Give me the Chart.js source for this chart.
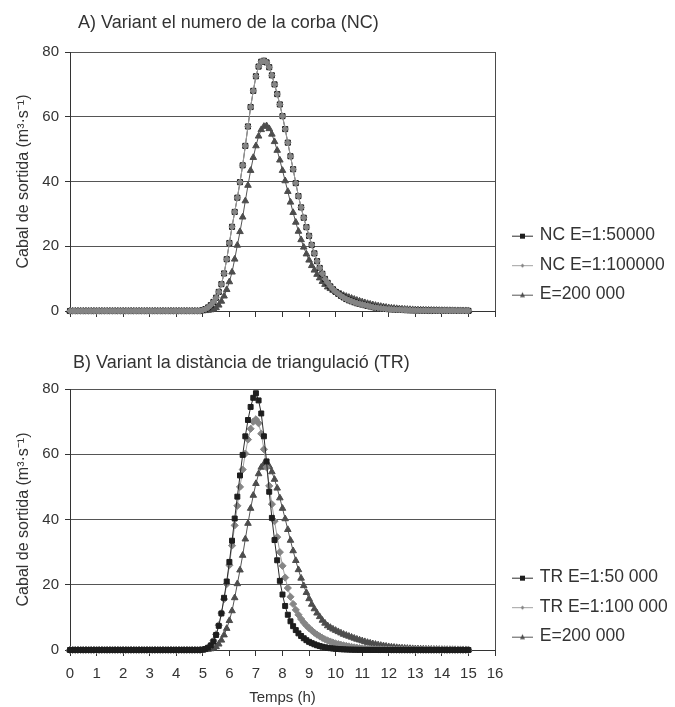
<!DOCTYPE html>
<html>
<head>
<meta charset="utf-8">
<script src="https://cdn.jsdelivr.net/npm/chart.js@4.4.1/dist/chart.umd.min.js"></script>
<style>
  body { margin: 0; background: #fff; overflow: hidden; }
  #wrap { position: relative; width: 675px; height: 707px; }
  canvas { position: absolute; left: 0; }
  .title { position: absolute; font: 18px 'Liberation Sans', Arial, sans-serif; line-height: 20px; color: #333; white-space: nowrap; }
</style>
</head>
<body>
<div id="wrap">
  <canvas id="chartA" width="675" height="340" style="top:0"></canvas>
  <canvas id="chartB" width="675" height="367" style="top:340px"></canvas>
  <div class="title" style="left:78px; top:12px">A) Variant el numero de la corba (NC)</div>
  <div class="title" style="left:73px; top:352px">B) Variant la distància de triangulació (TR)</div>
</div>
<script>
// Hydrographs, one value every 0.1 h from 0 to 15 h (m3/s)
const nc = [
  0, 0, 0, 0, 0, 0, 0, 0, 0, 0,
  0, 0, 0, 0, 0, 0, 0, 0, 0, 0,
  0, 0, 0, 0, 0, 0, 0, 0, 0, 0,
  0, 0, 0, 0, 0, 0, 0, 0, 0, 0,
  0, 0, 0, 0, 0, 0, 0, 0, 0, 0,
  0.3, 0.6, 1.1, 1.8, 2.8, 4.1, 5.9, 8.3, 11.6, 16.0,
  21.0, 26.0, 30.6, 35.0, 39.8, 45.0, 51.0, 57.0, 63.0, 68.0,
  72.5, 75.5, 77.0, 77.3, 76.8, 75.3, 72.8, 70.0, 67.0, 63.8,
  60.2, 56.2, 52.0, 47.8, 43.8, 39.5, 35.5, 32.0, 28.8, 25.9,
  23.2, 20.4, 17.8, 15.4, 13.3, 11.5, 9.9, 8.7, 7.6, 6.7,
  5.9, 5.3, 4.7, 4.2, 3.7, 3.3, 3.0, 2.7, 2.4, 2.2,
  2.0, 1.8, 1.6, 1.4, 1.2, 1.05, 0.95, 0.85, 0.75, 0.65,
  0.58, 0.52, 0.47, 0.42, 0.38, 0.34, 0.3, 0.27, 0.24, 0.22,
  0.2, 0.18, 0.16, 0.15, 0.14, 0.13, 0.12, 0.11, 0.1, 0.09,
  0.08, 0.08, 0.07, 0.07, 0.06, 0.06, 0.05, 0.05, 0.05, 0.04,
  0.04
];

const e200000 = [
  0, 0, 0, 0, 0, 0, 0, 0, 0, 0,
  0, 0, 0, 0, 0, 0, 0, 0, 0, 0,
  0, 0, 0, 0, 0, 0, 0, 0, 0, 0,
  0, 0, 0, 0, 0, 0, 0, 0, 0, 0,
  0, 0, 0, 0, 0, 0, 0, 0, 0, 0,
  0.05, 0.1, 0.2, 0.35, 0.6, 1.0, 1.8, 3.0, 4.6, 6.6,
  9.0, 12.0, 16.0, 20.3, 24.5, 29.0, 34.0, 38.8, 43.4, 47.4,
  51.0, 54.0, 56.0, 57.0, 57.2, 56.3, 54.6, 52.3, 49.6, 46.6,
  43.4, 40.2, 36.9, 33.6, 30.4, 27.4, 24.6, 22.0, 19.7, 17.6,
  15.7, 14.0, 12.6, 11.3, 10.2, 9.1, 8.2, 7.4, 6.9, 6.4,
  6.0, 5.6, 5.2, 4.8, 4.5, 4.2, 3.9, 3.6, 3.3, 3.05,
  2.8, 2.55, 2.3, 2.1, 1.9, 1.72, 1.55, 1.4, 1.26, 1.13,
  1.0, 0.9, 0.81, 0.73, 0.66, 0.6, 0.54, 0.49, 0.44, 0.4,
  0.36, 0.33, 0.3, 0.27, 0.25, 0.23, 0.21, 0.19, 0.18, 0.16,
  0.15, 0.14, 0.13, 0.12, 0.11, 0.1, 0.09, 0.09, 0.08, 0.08,
  0.07
];

const tr50000 = [
  0, 0, 0, 0, 0, 0, 0, 0, 0, 0,
  0, 0, 0, 0, 0, 0, 0, 0, 0, 0,
  0, 0, 0, 0, 0, 0, 0, 0, 0, 0,
  0, 0, 0, 0, 0, 0, 0, 0, 0, 0,
  0, 0, 0, 0, 0, 0, 0, 0, 0, 0,
  0.1, 0.3, 0.7, 1.4, 2.6, 4.6, 7.4, 11.2, 16.0, 21.0,
  27.0, 33.5, 40.3, 47.0, 53.5, 59.8, 65.5, 70.5, 74.5, 77.3,
  78.7, 76.5, 72.5, 65.5, 57.8, 48.5, 40.5, 33.7, 27.5, 21.2,
  17.0, 13.5, 10.8, 8.8, 7.3, 6.1, 5.1, 4.3, 3.6, 3.0,
  2.5, 2.1, 1.75, 1.45, 1.2, 1.0, 0.82, 0.67, 0.55, 0.45,
  0.37, 0.3, 0.24, 0.2, 0.16, 0.13, 0.1, 0.08, 0.07, 0.05,
  0.04, 0.03, 0.03, 0.02, 0.02, 0.02, 0.01, 0.01, 0.01, 0.01,
  0, 0, 0, 0, 0, 0, 0, 0, 0, 0,
  0, 0, 0, 0, 0, 0, 0, 0, 0, 0,
  0, 0, 0, 0, 0, 0, 0, 0, 0, 0,
  0
];

const tr100000 = [
  0, 0, 0, 0, 0, 0, 0, 0, 0, 0,
  0, 0, 0, 0, 0, 0, 0, 0, 0, 0,
  0, 0, 0, 0, 0, 0, 0, 0, 0, 0,
  0, 0, 0, 0, 0, 0, 0, 0, 0, 0,
  0, 0, 0, 0, 0, 0, 0, 0, 0, 0,
  0.1, 0.3, 0.7, 1.5, 2.8, 4.8, 7.6, 11.3, 15.6, 20.2,
  26.0, 32.0, 38.2, 44.2, 50.0, 55.3, 60.2, 64.5, 67.8, 70.0,
  70.7, 69.5, 66.3, 61.5, 56.0, 50.3, 44.7, 39.5, 34.6, 30.0,
  25.8, 22.2, 19.0, 16.3, 14.1, 12.3, 10.8, 9.5, 8.4, 7.5,
  6.7, 6.0, 5.3, 4.7, 4.2, 3.7, 3.3, 2.9, 2.6, 2.3,
  2.0, 1.8, 1.6, 1.4, 1.25, 1.1, 0.95, 0.82, 0.7, 0.6,
  0.52, 0.45, 0.39, 0.34, 0.29, 0.25, 0.21, 0.18, 0.15, 0.13,
  0.11, 0.09, 0.08, 0.07, 0.06, 0.05, 0.04, 0.04, 0.03, 0.03,
  0.02, 0.02, 0.02, 0.02, 0.01, 0.01, 0.01, 0.01, 0.01, 0.01,
  0, 0, 0, 0, 0, 0, 0, 0, 0, 0,
  0
];

// time axis: one sample every 0.1 h
const stepHours = 0.1;
const hours = nc.map((v, i) => +(i * stepHours).toFixed(1));

const FONT = "'Liberation Sans', Arial, Helvetica, sans-serif";
Chart.defaults.font.family = FONT;
Chart.defaults.color = '#333';

const BLACK = { line: '#2b2b2b', point: '#1e1e1e' };
const GREY = { line: '#a0a0a0', point: '#858585' };
const DARK = { line: '#555555', point: '#4d4d4d' };

// small line + marker sample for the legend
function legendIcon(col, marker) {
    const c = document.createElement('canvas');
    c.width = 28; c.height = 10;
    const g = c.getContext('2d');
    g.strokeStyle = col.line; g.lineWidth = 1;
    g.beginPath(); g.moveTo(7, 5.5); g.lineTo(28, 5.5); g.stroke();
    g.fillStyle = col.point;
    g.beginPath();
    if (marker === 'rect') {
        g.rect(15, 3, 5, 5);
    } else if (marker === 'rectRot') {
        g.moveTo(17.5, 3.5); g.lineTo(19.5, 5.5); g.lineTo(17.5, 7.5); g.lineTo(15.5, 5.5);
    } else {
        g.moveTo(17.5, 2.5); g.lineTo(20, 7.5); g.lineTo(15, 7.5);
    }
    g.closePath(); g.fill();
    return c;
}

function lineSet(label, data, col, style, radius, order) {
    return {
        label, data, order,
        borderColor: col.line, borderWidth: 1,
        pointStyle: style, pointRadius: radius, pointHoverRadius: radius,
        pointBackgroundColor: col.point, pointBorderColor: col.point, pointBorderWidth: 1,
        tension: 0, clip: false
    };
}

function chartOptions(o) {
    return {
        responsive: false,
        animation: false,
        events: [],
        layout: { padding: { top: o.top, right: 5, left: 0, bottom: 0 } },
        scales: {
            x: {
                type: 'linear', min: 0, max: 16,
                afterFit: s => { s.height = o.xHeight; },
                ticks: { stepSize: 1, display: o.showX, font: { size: 15 }, padding: 9, maxRotation: 0, autoSkip: false },
                grid: {
                    drawOnChartArea: true,
                    color: c => (c.tick && c.tick.value === 16 ? '#4a4a4a' : 'rgba(0,0,0,0)'),
                    tickColor: '#333', tickLength: 6
                },
                border: { color: '#333' },
                title: { display: o.showX, text: 'Temps (h)', font: { size: 15 }, padding: { top: 0, bottom: 0 } }
            },
            y: {
                min: 0, max: 80,
                afterFit: s => { s.width = 70; },
                ticks: { stepSize: 20, font: { size: 15 }, padding: 6 },
                grid: { color: '#555', tickColor: '#333', tickLength: 5 },
                border: { color: '#333' },
                title: { display: true, text: 'Cabal de sortida (m³·s⁻¹)', font: { size: 16 }, padding: { top: 14, bottom: 0 } }
            }
        },
        plugins: {
            tooltip: { enabled: false },
            legend: {
                position: 'right', align: 'start', maxWidth: 175,
                title: { display: true, text: ' ', font: { size: 12 }, padding: { top: o.legendGap, bottom: 0 } },
                labels: {
                    usePointStyle: true, pointStyleWidth: 24, padding: 12,
                    font: { size: 17.5 }, color: '#333',
                    generateLabels: chart => chart.data.datasets.map((ds, i) => ({
                        text: ds.label, pointStyle: o.icons[i],
                        fillStyle: 'rgba(0,0,0,0)', strokeStyle: 'rgba(0,0,0,0)', lineWidth: 0,
                        hidden: false, datasetIndex: i, fontColor: '#333'
                    }))
                }
            }
        }
    };
}

const icons = [legendIcon(BLACK, 'rect'), legendIcon(GREY, 'rectRot'), legendIcon(DARK, 'triangle')];

// A) curve number
new Chart(document.getElementById('chartA'), {
    type: 'line',
    data: {
        labels: hours,
        datasets: [
            lineSet('NC E=1:50000', nc, BLACK, 'rect', 3.6, 1),
            lineSet('NC E=1:100000', nc, GREY, 'rectRot', 3.2, 0),
            lineSet('E=200 000', e200000, DARK, 'triangle', 3.8, 2)
        ]
    },
    options: chartOptions({ top: 52, xHeight: 29, showX: false, legendGap: 148.5, icons })
});

// B) triangulation distance
new Chart(document.getElementById('chartB'), {
    type: 'line',
    data: {
        labels: hours,
        datasets: [
            lineSet('TR E=1:50 000', tr50000, BLACK, 'rect', 3.5, 0),
            lineSet('TR E=1:100 000', tr100000, GREY, 'rectRot', 3.6, 1),
            lineSet('E=200 000', e200000, DARK, 'triangle', 3.8, 2)
        ]
    },
    options: chartOptions({ top: 49, xHeight: 57, showX: true, legendGap: 153.5, icons })
});
</script>
</body>
</html>
